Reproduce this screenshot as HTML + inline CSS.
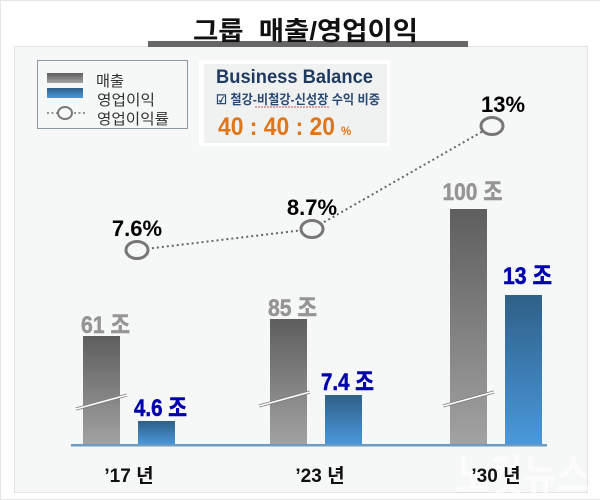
<!DOCTYPE html>
<html lang="ko">
<head>
<meta charset="utf-8">
<title>그룹 매출/영업이익</title>
<style>
html,body{margin:0;padding:0;background:#fff;}
svg{display:block;font-family:"Liberation Sans","Noto Sans CJK KR",sans-serif;}
</style>
</head>
<body>
<svg id="chart" width="600" height="500" viewBox="0 0 600 500" xmlns="http://www.w3.org/2000/svg">
  <defs>
    <linearGradient id="grayGrad" x1="0" y1="0" x2="0" y2="1">
      <stop offset="0" stop-color="#5e5e5e"/><stop offset="1" stop-color="#a2a2a2"/>
    </linearGradient>
    <linearGradient id="blueGrad" x1="0" y1="0" x2="0" y2="1">
      <stop offset="0" stop-color="#2f6088"/><stop offset="1" stop-color="#4a98dc"/>
    </linearGradient>
  </defs>
  <rect x="0.5" y="0.5" width="600" height="499" fill="#fff" stroke="#e6e6e6"/>
  <rect x="14.5" y="46.5" width="573" height="446" fill="#f6f7f7" stroke="#e2e2e2"/>
  <rect x="148" y="41" width="320" height="6" fill="#666"/>
  <text x="193" y="40" font-size="26" font-weight="700" fill="#111" textLength="225" lengthAdjust="spacingAndGlyphs">그룹&#160;&#160;매출/영업이익</text>

  <g>
    <rect x="37.5" y="60.5" width="150" height="68" fill="#f6f7f7" stroke="#8a9aa5"/>
    <rect x="47" y="73" width="36" height="10" fill="url(#grayGrad)"/>
    <rect x="47" y="88" width="36" height="10" fill="url(#blueGrad)"/>
    <line x1="47" y1="113" x2="87" y2="113" stroke="#777" stroke-width="1.6" stroke-dasharray="2 2.5"/>
    <ellipse cx="65" cy="113" rx="7" ry="6" fill="#f6f7f7" stroke="#777" stroke-width="2"/>
    <text x="96" y="86" font-size="15" fill="#333" textLength="28" lengthAdjust="spacingAndGlyphs">매출</text>
    <text x="97" y="105" font-size="15" fill="#333" textLength="58" lengthAdjust="spacingAndGlyphs">영업이익</text>
    <text x="97" y="124" font-size="15" fill="#333" textLength="72" lengthAdjust="spacingAndGlyphs">영업이익률</text>
  </g>

  <g>
    <rect x="199" y="60" width="191" height="86" fill="#fff"/>
    <rect x="204" y="64" width="183" height="79" fill="#f0f1f1"/>
    <text x="216" y="83" font-size="19" font-weight="700" fill="#1f3a5f" textLength="157" lengthAdjust="spacingAndGlyphs">Business Balance</text>
    <text x="216" y="104" font-size="13" font-weight="700" fill="#2b4a73" textLength="164" lengthAdjust="spacingAndGlyphs">☑ 철강-비철강-신성장 수익 비중</text>
    <line x1="255" y1="107" x2="329" y2="107" stroke="#c9505a" stroke-width="1" stroke-dasharray="2 1"/>
    <text x="218" y="135" font-size="25" font-weight="700" fill="#e0761a" textLength="117" lengthAdjust="spacingAndGlyphs">40 : 40 : 20</text>
    <text x="341" y="135" font-size="11.5" font-weight="700" fill="#e0761a">%</text>
  </g>

  <g id="plot"></g>

  <text x="523" y="491" text-anchor="middle" font-size="44" font-weight="700" fill="#fff" fill-opacity="0.62" textLength="134" lengthAdjust="spacingAndGlyphs">노컷뉴스</text>

  <g id="categoryLabels"></g>
</svg>
<script>
const categories = ["’17 년", "’23 년", "’30 년"];
const revenue = [61, 85, 100];
const profit = [4.6, 7.4, 13];
const margin = [7.6, 8.7, 13];
const unit = " 조";

const svg = document.getElementById("plot");
const catGroup = document.getElementById("categoryLabels");
const NS = "http://www.w3.org/2000/svg";
const BASE_Y = 445;
const BAR_W = 37;

function interp(v, domain, range) {
  let i = 0;
  while (i < domain.length - 2 && v > domain[i + 1]) i++;
  return range[i] + (v - domain[i]) * (range[i + 1] - range[i]) / (domain[i + 1] - domain[i]);
}
/* The source chart has a broken, non-linear value axis, hence piecewise scales. */
function yRevenue(v) { return BASE_Y - interp(v, [0, 61, 85, 100], [0, 109, 126, 236]); }
function yProfit(v) { return BASE_Y - interp(v, [0, 4.6, 7.4, 13], [0, 24, 50, 150]); }
function yMargin(v) { return interp(v, [7.6, 8.7, 13], [250, 229, 126]); }
function xGroup(i) { return 83 + 187 * Math.min(i, 1) + 180 * Math.max(i - 1, 0); }
function xProfit(i) { return xGroup(i) + 55; }
function xPoint(i) { return 137 + 175 * Math.min(i, 1) + 180 * Math.max(i - 1, 0); }

function make(tag, attrs, text) {
  const el = document.createElementNS(NS, tag);
  for (const k in attrs) el.setAttribute(k, attrs[k]);
  if (text !== undefined) el.textContent = text;
  svg.appendChild(el);
  return el;
}

function valueLabel(value, cx, y, fill) {
  const s = String(value);
  const digits = s.replace(/[^0-9]/g, "").length;
  const dots = s.length - digits;
  return make("text", {
    x: cx, y: y, "text-anchor": "middle", "font-size": 24, "font-weight": 700,
    fill: fill, stroke: fill, "stroke-width": 0.5,
    textLength: 27 + 11 * digits + 4 * dots,
    lengthAdjust: "spacingAndGlyphs"
  }, s + unit);
}

/* bars */
categories.forEach(function (cat, i) {
  const lift = i === 2 ? 6 : 0;
  const yr = yRevenue(revenue[i]);
  const bar = make("rect", { x: xGroup(i), y: yr, width: BAR_W, height: BASE_Y - yr, fill: "url(#grayGrad)" });
  
  

  const yp = yProfit(profit[i]);
  const bar2 = make("rect", { x: xProfit(i), y: yp, width: BAR_W, height: BASE_Y - yp, fill: "url(#blueGrad)" });
  
  

  const l1 = valueLabel(revenue[i], xGroup(i) + BAR_W / 2 + 4, yr - 3 - lift, "#959595");
  
  

  const l2 = valueLabel(profit[i], xProfit(i) + BAR_W / 2 + 4, yp - 5 - lift, "#0000b0");
  
  

  const cl = make("text", {
    x: xGroup(i) + 46 + (i === 1 ? 4 : 0), y: 482, "text-anchor": "middle",
    "font-size": 19, "font-weight": 700, fill: "#111"
  }, cat);
  
  
  catGroup.appendChild(cl);

  /* axis-break slashes across the revenue bars */
  const bx1 = xGroup(i) - (i === 1 ? 11 : 7), bx2 = bx1 + 51;
  const by1 = 409 - (i === 0 ? 0 : 3), by2 = by1 - 14;
  const b1 = make("line", { x1: bx1, y1: by1, x2: bx2, y2: by2, stroke: "#7c7c7c", "stroke-width": 3 });
  
  
  const b2 = make("line", { x1: bx1, y1: by1, x2: bx2, y2: by2, stroke: "#fff", "stroke-width": 1.6 });
  
  
});

/* baseline */
const base = make("rect", { x: 71, y: BASE_Y - 1, width: 476, height: 2.5, fill: "#6d9cc0" });



/* margin line */
const pts = margin.map(function (v, i) { return xPoint(i) + "," + yMargin(v); }).join(" ");
const line = make("polyline", { points: pts, fill: "none", stroke: "#666", "stroke-width": 2, "stroke-dasharray": "2 3" });



margin.forEach(function (v, i) {
  const cy = yMargin(v);
  const m = make("ellipse", { cx: xPoint(i), cy: cy, rx: 11, ry: 8.5, fill: "#f6f7f7", stroke: "#777", "stroke-width": 3 });
  
  
  const t = make("text", {
    x: xPoint(i) + (i === 2 ? 11 : 0), y: cy - 14, "text-anchor": "middle",
    "font-size": 22, "font-weight": 700, fill: "#000"
  }, v + "%");
  
  
});
</script>
</body>
</html>
